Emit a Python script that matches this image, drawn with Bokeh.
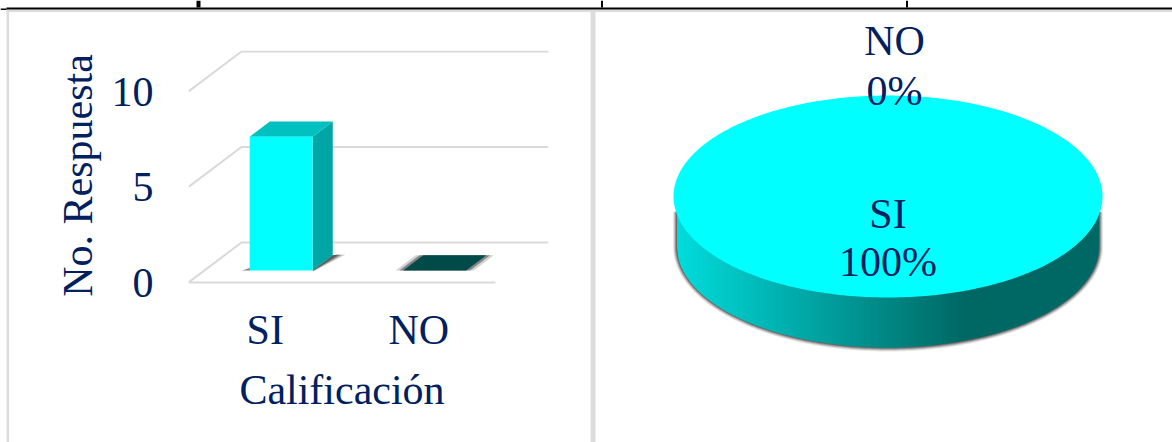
import numpy as np
from bokeh.embed import file_html
from bokeh.models import FixedTicker, Range1d
from bokeh.plotting import figure
from bokeh.core.properties import value
from bokeh.resources import INLINE

# ---------- data ----------
categories = ["SI", "NO"]
responses = [7, 0]
y_ticks = [0, 5, 10]
x_title = "Calificación"
y_title = "No. Respuesta"
pie_labels = ["SI", "NO"]
pie_percent = [100, 0]

# ---------- style ----------
FONT = "Liberation Serif"
NAVY = "#002060"
GRID = "#d9d9d9"
FS = "42px"

# left panel scales (px per unit)
PX_X, PX_Y = 153.5, 19.1
DEPTH_X, DEPTH_Y = 53 / PX_X, 40 / PX_Y   # oblique offset of full chart depth
BAR_W = 0.41
D0, D1 = 0.30, 0.68                        # bar depth extents

PAGE_W, L_W, R_W, H = 1172, 592, 580, 442
F_L, F_R, F_T, F_B = 188, 548, 50, 300     # left frame in page pixels

# ---------- page furniture, behind both charts ----------
bg = figure(width=PAGE_W, height=H, output_backend="svg", toolbar_location=None,
            x_range=Range1d(0, PAGE_W), y_range=Range1d(H, 0), min_border=0,
            outline_line_color=None,
            styles={"position": "absolute", "left": "0px", "top": "0px", "z-index": "0"})
bg.axis.visible = False
bg.grid.visible = False
GRAY = "#dcdcdc"
rules = [
    (6, PAGE_W, 9, 11.5, GRAY),
    (6, 8.5, 9, H, GRAY),
    (590, 595, 9, H, GRAY),
    (6, PAGE_W, 7, 9, "#000000"),
    (0, 6, 8, 9.5, "#000000"),
    (196, 200, 0, 7, "#000000"),
    (600.5, 602.5, 0, 7, "#000000"),
    (905.5, 907.5, 0, 7, "#000000"),
]
bg.quad(left=[r[0] for r in rules], right=[r[1] for r in rules],
        top=[r[2] for r in rules], bottom=[r[3] for r in rules],
        fill_color=[r[4] for r in rules], line_color=None)
bg.text([341.5], [389], text=[x_title], text_align="center", text_baseline="middle",
        text_font=value(FONT), text_font_size=value(FS), text_color=NAVY)


def proj(x, v, d):
    return x + d * DEPTH_X, v + d * DEPTH_Y


left = figure(width=L_W, height=H, output_backend="svg", toolbar_location=None,
              x_range=Range1d(0, (F_R - F_L) / PX_X),
              y_range=Range1d(-(F_B - 282) / PX_Y, (282 - F_T) / PX_Y),
              min_border_left=F_L, min_border_right=L_W - F_R,
              min_border_top=F_T, min_border_bottom=H - F_B,
              outline_line_color=None, background_fill_color=None, border_fill_color=None,
              styles={"position": "absolute", "left": "0px", "top": "0px", "z-index": "1"})
left.grid.visible = False

# ---- walls ----
for t in y_ticks:
    xs, ys = zip(proj(0, t, 0), proj(0, t, 1), proj(len(categories), t, 1))
    left.line(list(xs), list(ys), line_color=GRID, line_width=2)
xs, ys = zip(proj(0, 0, 0), proj(len(categories), 0, 0))
left.line(list(xs), list(ys), line_color=GRID, line_width=2)

# ---- bars ----
centers = [i + 0.5 for i in range(len(categories))]
for c, v in zip(centers, responses):
    a, b = c - BAR_W / 2, c + BAR_W / 2
    if v > 0:
        # floor shadow: soft layers to the right, thin sliver to the left
        for grow, alpha in [(0.075, 0.35), (0.05, 0.6), (0.03, 0.9)]:
            sx, sy = zip(proj(b, 0, D0), proj(b, 0, D1), proj(b + grow, 0, D1 + 0.02))
            sx = list(sx) + [proj(b + grow * 0.2, 0, D0)[0]]
            sy = list(sy) + [proj(b, 0, D0)[1]]
            left.patch(sx, sy, fill_color="#555555", fill_alpha=alpha, line_color=None)
        sx, sy = zip(proj(a - 0.05, 0, D0), proj(a, 0, D0), proj(a, 0, D0 + 0.06), proj(a - 0.02, 0, D0 + 0.06))
        left.patch(list(sx), list(sy), fill_color="#666666", fill_alpha=0.8, line_color=None)
        # side
        sx, sy = zip(proj(b, 0, D0), proj(b, v, D0), proj(b, v, D1), proj(b, 0, D1))
        left.patch(list(sx), list(sy), fill_color="#00a6a6", line_color=None)
        # top
        sx, sy = zip(proj(a, v, D0), proj(b, v, D0), proj(b, v, D1), proj(a, v, D1))
        left.patch(list(sx), list(sy), fill_color="#00c0c0", line_color=None)
        # front
        left.quad(left=[proj(a, 0, D0)[0]], right=[proj(b, 0, D0)[0]],
                  bottom=[proj(a, 0, D0)[1]], top=[proj(a, v, D0)[1]],
                  fill_color="#00ffff", line_color=None)
    else:
        # empty bar: flat plate with soft edge
        for grow, col, alpha in [(0.05, "#808080", 0.35), (0.025, "#505050", 0.6), (0.0, "#004a4a", 1.0)]:
            sx, sy = zip(proj(a - grow, 0, D0), proj(b + grow, 0, D0), proj(b + grow, 0, D1), proj(a - grow, 0, D1))
            left.patch(list(sx), list(sy), fill_color=col, fill_alpha=alpha, line_color=None)

# ---- axes ----
ya = left.yaxis[0]
ya.ticker = FixedTicker(ticks=y_ticks)
ya.axis_line_color = None
ya.major_tick_line_color = None
ya.minor_tick_line_color = None
ya.major_label_standoff = 29
ya.major_label_text_font = FONT
ya.major_label_text_font_size = FS
ya.major_label_text_color = NAVY
ya.axis_label = y_title
ya.axis_label_text_font = FONT
ya.axis_label_text_font_size = FS
ya.axis_label_text_font_style = "normal"
ya.axis_label_text_color = NAVY
ya.axis_label_standoff = 8

xa = left.xaxis[0]
xa.ticker = FixedTicker(ticks=centers)
xa.major_label_overrides = {c: n for c, n in zip(centers, categories)}
xa.axis_line_color = None
xa.major_tick_line_color = None
xa.minor_tick_line_color = None
xa.major_label_standoff = 0
xa.major_label_text_font = FONT
xa.major_label_text_font_size = FS
xa.major_label_text_color = NAVY

# ---------- pie ----------
RX, RY, DEPTH = 214.5, 101.0, 50.0
WALL = 211.0 / RX                           # the wall sits a little inside the top face
CX, CY = 887.5 - L_W, 196.0
right = figure(width=R_W, height=H, output_backend="svg", toolbar_location=None,
               x_range=Range1d(-CX / RX, (R_W - CX) / RX),
               y_range=Range1d(-(H - CY) / RY, CY / RY),
               min_border=0, outline_line_color=None,
               background_fill_color=None, border_fill_color=None,
               styles={"position": "absolute", "left": f"{L_W}px", "top": "0px", "z-index": "2"})
right.axis.visible = False
right.grid.visible = False

total = sum(pie_percent)
th_depth = DEPTH / RY
sweep = [2 * np.pi * p / total for p in pie_percent]
t = np.linspace(0, sweep[0], 361)          # the SI slice
cx, sy = np.cos(t), np.sin(t)

# soft shadow round the lower rim
lo = np.linspace(np.pi, 2 * np.pi, 181)
for grow, alpha in [(4.0, 0.12), (3.0, 0.2), (2.0, 0.3), (1.0, 0.45)]:
    sx = (WALL + grow / RX) * np.cos(lo)
    syy = (1 + grow / RY) * np.sin(lo) - th_depth
    right.patch(sx.tolist(), np.where(np.abs(syy) < 0, 0, syy).tolist() + [],
                fill_color="#303030", fill_alpha=alpha, line_color=None)
    right.quad(left=[-(WALL + grow / RX)], right=[WALL + grow / RX], top=[-0.15], bottom=[-th_depth],
               fill_color="#303030", fill_alpha=alpha, line_color=None)

# side wall with horizontal gradient
light = np.array([0x00, 0xdc, 0xdc])
dark = np.array([0x00, 0x68, 0x64])
edges = np.linspace(-WALL, WALL, 215)
for x0, x1 in zip(edges[:-1], edges[1:]):
    f = min(1.0, max(0.0, ((x0 + x1) / 2 + WALL) / 1.34))
    col = tuple(int(v) for v in light + (dark - light) * f)
    xx = np.linspace(x0, min(x1 + 0.006, WALL), 4)
    y_low = -np.sqrt(np.clip(1 - (xx / WALL) ** 2, 0, 1)) - th_depth
    right.patch(np.r_[xx, xx[::-1]].tolist(), np.r_[y_low, np.zeros(4)].tolist(),
                fill_color="#%02x%02x%02x" % col, line_color=None)

# top face
right.patch(cx.tolist(), sy.tolist(), fill_color="#00ffff", line_color=None)

# labels (name above, percentage below)
lab_pos = {"SI": (887.5, 213, 261), "NO": (894, 40, 90)}
for n, p in zip(pie_labels, pie_percent):
    x_px, y1, y2 = lab_pos[n]
    lx = (x_px - L_W - CX) / RX
    right.text([lx, lx], [(CY - y1) / RY, (CY - y2) / RY], text=[n, f"{p}%"],
               text_align="center", text_baseline="middle", text_font=value(FONT),
               text_font_size=value(FS), text_color=NAVY)

open("out.html", "w").write(file_html((bg, left, right), INLINE))
